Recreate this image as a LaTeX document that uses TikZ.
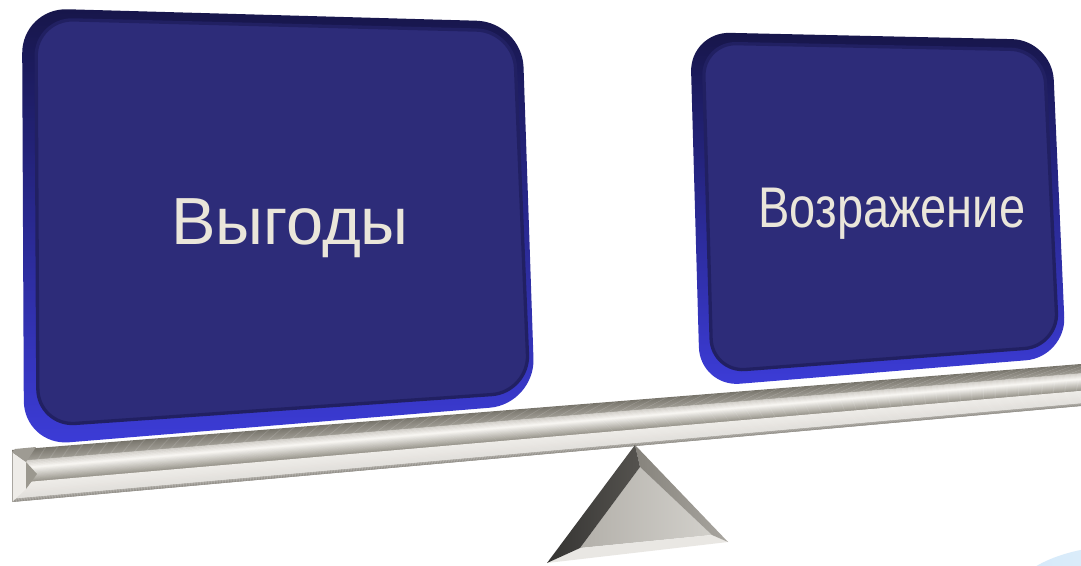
\documentclass[tikz,border=0pt]{standalone}
\usepackage{fontspec}
\setmainfont{Liberation Sans}
\usetikzlibrary{calc}
\definecolor{face}{HTML}{2D2C79}
\definecolor{rimtop}{HTML}{17164A}
\definecolor{rimmid}{HTML}{3131AA}
\definecolor{rimbot}{HTML}{3C3CD8}
\definecolor{innershadow}{HTML}{212062}
\definecolor{labeltext}{HTML}{EAE6DA}
\definecolor{bmA}{HTML}{78756C}
\definecolor{bmB}{HTML}{9E9B93}
\definecolor{bmC}{HTML}{CFCCC6}
\definecolor{bmD}{HTML}{F6F4F0}
\definecolor{bmE}{HTML}{9B988F}
\definecolor{bmF}{HTML}{EEECE8}
\definecolor{bmG}{HTML}{E2E0DC}
\definecolor{bmH}{HTML}{A9A6A0}
\definecolor{bmI}{HTML}{8A8780}
\definecolor{triDark}{HTML}{353432}
\definecolor{triDarkB}{HTML}{55534F}
\definecolor{triMid}{HTML}{86837C}
\definecolor{triLight}{HTML}{E9E7E3}
\definecolor{triFaceA}{HTML}{B3B0AA}
\definecolor{triFaceB}{HTML}{D2D0CB}
\definecolor{blobA}{HTML}{D3E8F9}
\definecolor{blobB}{HTML}{EAF5FD}
\tikzset{
  boxrim/.style={rounded corners=#1, top color=rimtop, middle color=rimmid, bottom color=rimbot},
  boxface/.style={rounded corners=#1, fill=face, draw=innershadow, line width=2.5pt},
  boxlabel/.style={text=labeltext, inner sep=0pt, anchor=base},
}
\begin{document}
\begin{tikzpicture}[x=0.75pt,y=-0.75pt]
\useasboundingbox (0,0) rectangle (1081,566);
\fill[white] (0,0) rectangle (1081,566);

% light blue shape, bottom right
\begin{scope}
  \clip (0,0) rectangle (1081,566);
  \shade[left color=blobA, right color=blobB] (1122,605) ellipse [x radius=114, y radius=59];
\end{scope}

% left box
\shade[boxrim=34pt] (22,8) -- (522,22) -- (535,404) -- (24,446) -- cycle;
\path[boxface=28pt] (36,19) -- (514,31) -- (529,392) -- (38,426) -- cycle;
\node[boxlabel, font=\fontsize{50}{60}\selectfont] (benefits) at (290,245) {Выгоды};

% right box
\shade[boxrim=30pt] (690,32) -- (1052,40) -- (1066,357) -- (700,387) -- cycle;
\path[boxface=25pt] (703,43) -- (1044,50) -- (1058,346) -- (712,372) -- cycle;
\node[boxlabel, font=\fontsize{43}{52}\selectfont] (objection) at (892,228) {\scalebox{0.82}[1]{Возражение}};

% beam
\foreach \ta/\tb/\ca/\cb in {0/0.22/bmA/bmB, 0.22/0.36/bmC/bmD, 0.36/0.64/bmD/bmE, 0.64/0.94/bmF/bmG, 0.94/1/bmH/bmI}{
  \foreach \i in {0,...,11}{
    \pgfmathsetmacro\tz{\ta+(\tb-\ta)*\i/12}
    \pgfmathsetmacro\tw{min(1,\ta+(\tb-\ta)*(\i+1.4)/12)}
    \pgfmathtruncatemacro\pc{100*\i/11}
    \fill[\cb!\pc!\ca] (12,{450+52*\tz}) -- (1081,{364+42*\tz}) -- (1081,{364+42*\tw}) -- (12,{450+52*\tw}) -- cycle;
  }
}
% beam left end
\fill[bmF] (12,452) -- (26,462) -- (26,489) -- (12,502) -- cycle;
\fill[bmE] (26,462) -- (37,474) -- (26,489) -- cycle;
\fill[bmB] (12,452) -- (15,449) -- (36,447) -- (26,462) -- cycle;
\draw[bmH, line width=0.5pt] (12,452) -- (12,502);

% fulcrum
\shade[left color=triFaceA, right color=triFaceB] (640,467) -- (580,548) -- (712,535) -- cycle;
\fill[triLight] (580,548) -- (712,535) -- (728,542) -- (547,563) -- cycle;
\shade[left color=triMid, right color=bmH] (635,445) -- (640,467) -- (712,535) -- (728,542) -- cycle;
\shade[left color=triDark, right color=triDarkB] (635,445) -- (547,563) -- (580,548) -- (640,467) -- cycle;
\end{tikzpicture}
\end{document}
